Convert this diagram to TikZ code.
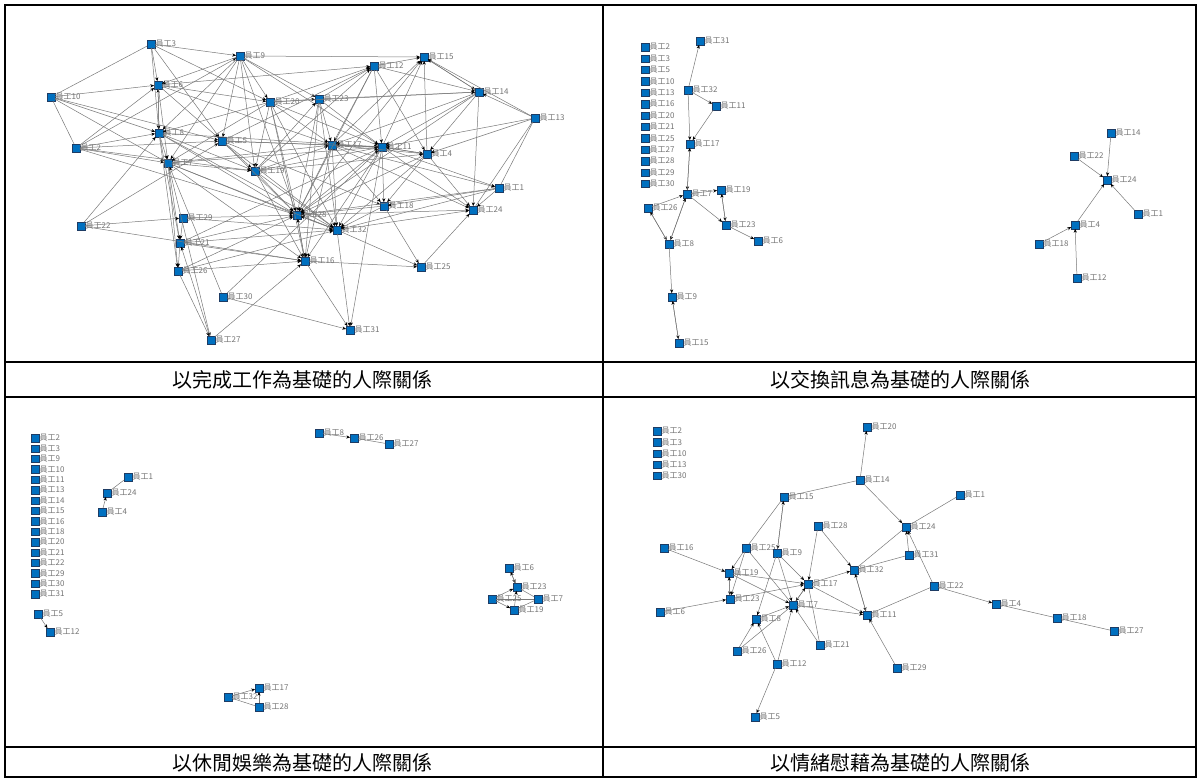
\documentclass[tikz,border=0pt]{standalone}
\usepackage{fontspec}
\usepackage{tikz}
\usetikzlibrary{arrows.meta}
\newfontfamily\cjk{Noto Sans CJK TC}
\definecolor{empblue}{RGB}{0,112,192}
\definecolor{empedge}{RGB}{30,60,100}
\definecolor{linkgray}{RGB}{120,120,120}

\begin{document}
\begin{tikzpicture}[x=1pt, y=-1pt,
    emp/.style={rectangle, fill=empblue, draw=empedge, line width=0.3pt,
      minimum size=7.5pt, inner sep=0pt, label distance=0.5pt},
    lbl/.style={font={\cjk\fontsize{8}{9}\selectfont}, text=black!55, inner sep=0.5pt},
    link/.style={draw=linkgray, line width=0.5pt},
    arr/.style={link, -{Stealth[black, length=3.8pt, width=3.2pt]}},
    captext/.style={font={\cjk\fontsize{20}{22}\selectfont}}]
  \useasboundingbox (0,0) rectangle (1200,779);

  % table frame
  \draw[line width=1.6pt] (5,5) rectangle (1196,777);
  \draw[line width=1.6pt] (603,5) -- (603,777);
  \foreach \yy in {362,397,747}
    \draw[line width=1.6pt] (5,\yy) -- (1196,\yy);

  % captions
  \node[captext] (capA) at (302,380) {以完成工作為基礎的人際關係};
  \node[captext] (capB) at (900,380) {以交換訊息為基礎的人際關係};
  \node[captext] (capC) at (302,763) {以休閒娛樂為基礎的人際關係};
  \node[captext] (capD) at (900,763) {以情緒慰藉為基礎的人際關係};

  % --- panel A: work
  \foreach \id/\x/\y in {1/499/188, 2/76/148, 3/151/44, 4/427/154, 5/222/141,
      6/158/85, 7/168/163, 8/159/133, 9/240/56, 10/51/97, 11/382/147,
      12/374/66, 13/535/118, 14/479/92, 15/424/57, 16/305/261, 17/332/145,
      18/384/206, 19/255/171, 20/270/102, 21/180/243, 22/81/226, 23/319/99,
      24/473/210, 25/421/267, 26/178/271, 27/211/340, 28/297/215,
      29/183/218, 30/223/297, 31/350/330, 32/337/230}
    \node[emp, label={[lbl]right:員工\id}] (a\id) at (\x,\y) {};
  \foreach \s/\t in {3/9, 3/6, 3/8, 3/20, 3/5, 10/6, 10/8, 10/7, 10/5,
      2/6, 2/9, 2/8, 2/5, 2/7, 2/19, 2/28, 6/8, 8/6, 8/7, 6/7, 6/5, 6/12,
      6/20, 6/17, 9/6, 9/8, 9/5, 9/7, 9/19, 9/20, 9/11, 9/15, 9/23, 9/28,
      20/19, 20/8, 20/7, 20/23, 20/12, 20/17, 20/11, 20/28, 20/32, 20/16,
      20/14, 5/17, 5/11, 5/19, 5/28, 5/32, 5/18, 5/12, 7/19, 7/28, 7/32,
      7/16, 7/21, 7/26, 7/27, 7/17, 7/11, 8/19, 8/28, 8/32, 8/11, 8/26,
      8/21, 19/17, 19/11, 19/28, 19/32, 19/16, 19/12, 19/23, 19/4, 23/17,
      23/11, 23/12, 23/14, 23/28, 23/32, 23/16, 12/15, 12/14, 12/11,
      12/17, 12/4, 12/28, 15/14, 14/15, 4/15, 17/15, 11/15, 28/15, 13/14,
      13/15, 13/11, 13/4, 14/24, 14/11, 14/17, 14/4, 14/28, 17/11, 11/17,
      17/4, 17/1, 17/18, 17/24, 17/28, 17/32, 17/16, 11/4, 11/1, 11/18,
      11/24, 11/28, 11/32, 11/16, 11/31, 4/11, 4/24, 4/28, 4/32, 4/18,
      1/24, 1/18, 1/32, 1/28, 22/29, 22/8, 22/5, 22/16, 29/28, 29/32,
      29/21, 21/28, 21/32, 21/16, 21/26, 21/11, 26/16, 26/32, 26/27,
      26/28, 30/7, 30/31, 30/11, 27/16, 27/21, 18/28, 18/25, 18/32,
      28/32, 32/28, 28/16, 16/28, 32/25, 16/25, 16/31, 32/31, 25/24,
      32/24, 28/24}
    \draw[arr] (a\s) -- (a\t);
  \foreach \s/\t in {3/10, 10/2, 13/1, 13/24}
    \draw[link] (a\s) -- (a\t);

  % --- panel B: information
  \foreach \id [count=\i from 0] in {2,3,5,10,13,16,20,21,25,27,28,29,30}
    \node[emp, label={[lbl]right:員工\id}] (b\id) at (645,47+\i*11.4) {};
  \foreach \id/\x/\y in {31/700/41, 32/688/90, 11/716/106, 17/690/144,
      7/687/194, 19/721/190, 26/648/208, 23/726/225, 6/758/241, 8/669/244,
      9/672/297, 15/679/343, 14/1111/133, 22/1074/156, 24/1107/180,
      1/1138/214, 4/1075/225, 18/1039/244, 12/1077/278}
    \node[emp, label={[lbl]right:員工\id}] (b\id) at (\x,\y) {};
  \foreach \s/\t in {32/31, 32/11, 11/17, 32/17, 17/7, 7/17, 26/7, 7/8,
      8/7, 26/8, 8/26, 7/19, 19/23, 23/19, 7/23, 23/6, 8/9, 9/15, 15/9,
      14/24, 22/24, 1/24, 4/24, 18/4, 12/4}
    \draw[arr] (b\s) -- (b\t);

  % --- panel C: leisure
  \foreach \id [count=\i from 0] in {2,3,9,10,11,13,14,15,16,18,20,21,22,29,30,31}
    \node[emp, label={[lbl]right:員工\id}] (c\id) at (35,438+\i*10.4) {};
  \foreach \id/\x/\y in {1/128/477, 24/107/493, 4/102/512, 5/38/614,
      12/50/632, 8/319/433, 26/354/438, 27/389/444, 32/228/697,
      17/259/688, 28/259/707, 6/509/568, 23/517/587, 25/492/599,
      7/538/599, 19/514/610}
    \node[emp, label={[lbl]right:員工\id}] (c\id) at (\x,\y) {};
  \foreach \s/\t in {4/24, 5/12, 8/26, 32/17, 28/17, 6/23, 23/6, 25/23,
      25/19, 19/23}
    \draw[arr] (c\s) -- (c\t);
  \foreach \s/\t in {1/24, 26/27, 32/28, 7/23, 25/7, 7/19}
    \draw[link] (c\s) -- (c\t);

  % --- panel D: emotional support
  \foreach \id [count=\i from 0] in {2,3,10,13,30}
    \node[emp, label={[lbl]right:員工\id}] (d\id) at (657,431+\i*11.2) {};
  \foreach \id/\x/\y in {20/867/427, 14/860/480, 15/784/497, 28/818/526,
      24/906/527, 16/664/548, 25/746/548, 9/777/553, 31/909/555,
      32/854/570, 19/729/573, 17/808/584, 22/934/586, 23/730/599,
      6/660/612, 7/793/605, 11/867/615, 8/756/619, 21/820/645, 26/737/651,
      12/777/664, 29/897/668, 5/755/717, 1/960/495, 4/996/604,
      18/1057/618, 27/1114/631}
    \node[emp, label={[lbl]right:員工\id}] (d\id) at (\x,\y) {};
  \foreach \s/\t in {14/20, 14/24, 31/24, 22/24, 22/4, 15/9, 9/15,
      16/19, 25/19, 25/23, 19/23, 23/19, 19/17, 19/7, 23/17, 6/23, 9/17,
      9/7, 9/8, 28/17, 28/32, 17/32, 17/7, 7/17, 17/11, 7/11, 32/11,
      11/32, 29/11, 21/7, 8/7, 26/8, 12/8, 12/7, 12/5}
    \draw[arr] (d\s) -- (d\t);
  \foreach \s/\t in {15/14, 1/24, 32/24, 32/31, 22/11, 4/18, 18/27,
      15/25, 25/7, 21/17, 26/7}
    \draw[link] (d\s) -- (d\t);
\end{tikzpicture}
\end{document}
